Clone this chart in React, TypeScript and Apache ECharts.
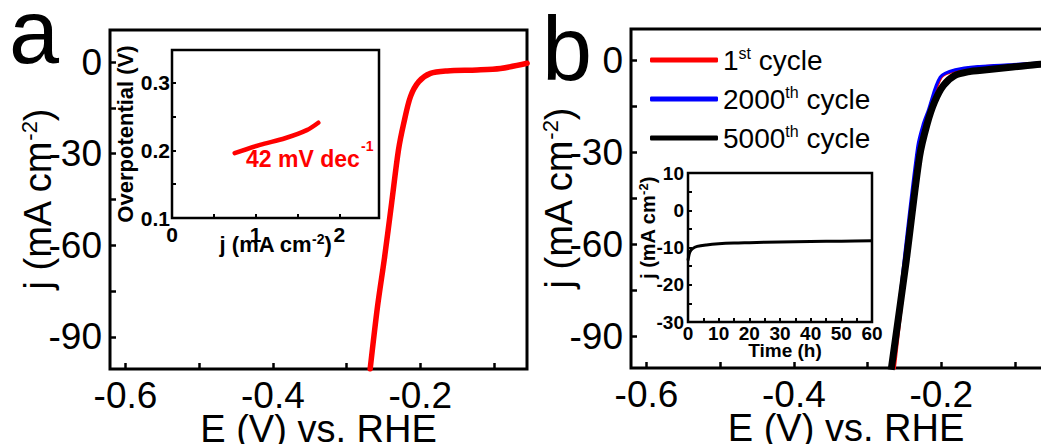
import React, { useEffect, useRef } from 'react';
import * as echarts from 'echarts';

const FONT = '"Liberation Sans", Arial, Helvetica, sans-serif';

// ---- Panel a: LSV curve ----
const lsvA_E = [-0.268, -0.258, -0.2485, -0.2388, -0.2296, -0.2224, -0.2133, -0.202, -0.1862, -0.1635, -0.1228, -0.0912, -0.055];
const lsvA_j = [-100.5, -80, -64, -46, -28.8, -20, -11.3, -6.4, -3.7, -2.9, -2.6, -2.1, -0.4];

// ---- Panel a inset: Tafel ----
const tafel_j = [0.749, 1.051, 1.35, 1.61, 1.748];
const tafel_eta = [0.196, 0.2083, 0.218, 0.23, 0.241];

// ---- Panel b: cycling LSV ----
const cycleNames = ['1st cycle', '2000th cycle', '5000th cycle'];
const cycleColors = ['#ff0000', '#0000ff', '#000000'];
const c1_E = [-0.2638, -0.2465, -0.2296, -0.2225, -0.216, -0.2001, -0.1798, -0.148, -0.103, -0.0654, -0.035];
const c1_j = [-100.8, -64, -28, -21, -16.5, -5.5, -3.3, -2.2, -1.6, -0.9, -0.5];
const c2000_E = [-0.2665, -0.25, -0.232, -0.2248, -0.218, -0.2015, -0.181, -0.148, -0.103, -0.0654, -0.035];
const c2000_j = [-100.8, -64, -28, -21, -16.5, -5.5, -3.1, -2.0, -1.4, -0.8, -0.4];
const c5000_E = [-0.268, -0.2476, -0.2296, -0.2195, -0.209, -0.197, -0.182, -0.16, -0.1482, -0.103, -0.0654, -0.035];
const c5000_j = [-100.9, -65.4, -31.5, -21, -13.5, -8.2, -5.0, -3.6, -3.3, -2.2, -1.3, -0.9];

// ---- Panel b inset: chronoamperometry ----
const time_h = [0, 0.2, 0.6, 1.5, 3, 6, 10, 15, 20, 30, 40, 50, 60];
const time_j = [-13.5, -12.5, -11.2, -10.3, -9.7, -9.3, -9.0, -8.8, -8.7, -8.5, -8.4, -8.3, -8.2];

// ---- Tick labels ----
const mainXLabels = [-0.6, -0.4, -0.2];
const mainXTicks = [-0.6, -0.5, -0.4, -0.3, -0.2, -0.1];
const mainYLabels = [0, -30, -60, -90];
const mainYTicks = [0, -15, -30, -45, -60, -75, -90];
const insetAXLabels = [0, 1, 2];
const insetAXTicks = [0.5, 1, 1.5, 2];
const insetAYLabels = [0.1, 0.2, 0.3];
const insetAYTicks = [0.15, 0.2, 0.25, 0.3];
const insetBXLabels = [0, 10, 20, 30, 40, 50, 60];
const insetBXTicks = [5, 10, 15, 20, 25, 30, 35, 40, 45, 50, 55];
const insetBYLabels = [10, 0, -10, -20, -30];
const insetBYTicks = [5, 0, -5, -10, -15, -20, -25];

const zip = (a: number[], b: number[]) => a.map((v, i) => [v, b[i]]);

const mainRich = {
  n: { fontSize: 38, fontFamily: FONT, color: '#000', lineHeight: 40 },
  s: { fontSize: 22, fontFamily: FONT, color: '#000', lineHeight: 16, verticalAlign: 'top' },
};
const insetRich = {
  n: { fontSize: 22, fontFamily: FONT, fontWeight: 'bold', color: '#000', lineHeight: 24 },
  s: { fontSize: 14, fontFamily: FONT, fontWeight: 'bold', color: '#000', lineHeight: 10, verticalAlign: 'top' },
};
const insetRichB = {
  n: { fontSize: 20, fontFamily: FONT, fontWeight: 'bold', color: '#000', lineHeight: 22 },
  s: { fontSize: 13, fontFamily: FONT, fontWeight: 'bold', color: '#000', lineHeight: 10, verticalAlign: 'top' },
};

function mainX(gridIndex: number, min: number, max: number) {
  return {
    gridIndex, type: 'value', min, max,
    axisLine: { show: false, onZero: false },
    splitLine: { show: false },
    axisTick: { show: true, inside: true, length: 6, customValues: mainXTicks, lineStyle: { color: '#000', width: 2.5 } },
    axisLabel: { customValues: mainXLabels, formatter: (v: number) => v.toFixed(1), fontSize: 37, fontFamily: FONT, color: '#000', margin: 8 },
    name: 'E (V) vs. RHE', nameLocation: 'middle', nameGap: 41, nameMoveOverlap: false,
    nameTextStyle: { fontSize: 38, fontFamily: FONT, color: '#000' },
  };
}
function mainY(gridIndex: number, min: number, max: number) {
  return {
    gridIndex, type: 'value', min, max,
    axisLine: { show: false, onZero: false },
    splitLine: { show: false },
    axisTick: { show: true, inside: true, length: 6, customValues: mainYTicks, lineStyle: { color: '#000', width: 2.5 } },
    axisLabel: { customValues: mainYLabels, formatter: (v: number) => String(v), fontSize: 37, fontFamily: FONT, color: '#000', margin: 8 },
    name: '{n|j (mA cm}{s|-2}{n|)}', nameLocation: 'middle', nameGap: 52, nameMoveOverlap: false,
    nameTextStyle: { rich: mainRich },
  };
}

const gridBase = { show: true, borderColor: '#000', outerBoundsMode: 'none', containLabel: false };

export default function App() {
  const ref = useRef<HTMLDivElement>(null);
  useEffect(() => {
    const chart = echarts.init(ref.current!, null, { renderer: 'svg' });
    const option: any = {
      animation: false,
      backgroundColor: '#fff',
      grid: [
        { ...gridBase, left: 110, top: 30, width: 417, height: 339, borderWidth: 3, backgroundColor: 'transparent' },
        { ...gridBase, left: 172, top: 50, width: 207, height: 168, borderWidth: 2.5, backgroundColor: '#fff' },
        { ...gridBase, left: 631, top: 29, width: 430, height: 339, borderWidth: 3, backgroundColor: 'transparent' },
        { ...gridBase, left: 688, top: 173, width: 184, height: 149, borderWidth: 2.5, backgroundColor: '#fff' },
      ],
      xAxis: [
        mainX(0, -0.621, -0.0552),
        {
          gridIndex: 1, type: 'value', min: 0, max: 2.473,
          axisLine: { show: false, onZero: false }, splitLine: { show: false },
          axisTick: { show: true, inside: true, length: 4, customValues: insetAXTicks, lineStyle: { color: '#000', width: 2 } },
          axisLabel: { customValues: insetAXLabels, formatter: (v: number) => String(v), fontSize: 21, fontWeight: 'bold', fontFamily: FONT, color: '#000', margin: 6 },
          name: '{n|j (mA cm}{s|-2}{n|)}', nameLocation: 'middle', nameGap: 14, nameMoveOverlap: false,
          nameTextStyle: { rich: insetRich },
        },
        mainX(2, -0.621, -0.0376),
        {
          gridIndex: 3, type: 'value', min: 0, max: 60,
          axisLine: { show: false, onZero: false }, splitLine: { show: false },
          axisTick: { show: true, inside: true, length: 4, customValues: insetBXTicks, lineStyle: { color: '#000', width: 2 } },
          axisLabel: { customValues: insetBXLabels, formatter: (v: number) => String(v), fontSize: 19, fontWeight: 'bold', fontFamily: FONT, color: '#000', margin: 2 },
        },
      ],
      yAxis: [
        mainY(0, -100.5, 10.5),
        {
          gridIndex: 1, type: 'value', min: 0.1, max: 0.3486,
          axisLine: { show: false, onZero: false }, splitLine: { show: false },
          axisTick: { show: true, inside: true, length: 4, customValues: insetAYTicks, lineStyle: { color: '#000', width: 2 } },
          axisLabel: { customValues: insetAYLabels, formatter: (v: number) => v.toFixed(1), fontSize: 21, fontWeight: 'bold', fontFamily: FONT, color: '#000', margin: 2 },
          name: 'Overpotential (V)', nameLocation: 'middle', nameGap: 36, nameMoveOverlap: false,
          nameTextStyle: { fontSize: 22, fontWeight: 'bold', fontFamily: FONT, color: '#000' },
        },
        mainY(2, -100.3, 10.2),
        {
          gridIndex: 3, type: 'value', min: -30, max: 10,
          axisLine: { show: false, onZero: false }, splitLine: { show: false },
          axisTick: { show: true, inside: true, length: 4, customValues: insetBYTicks, lineStyle: { color: '#000', width: 2 } },
          axisLabel: { customValues: insetBYLabels, formatter: (v: number) => String(v), fontSize: 19, fontWeight: 'bold', fontFamily: FONT, color: '#000', margin: 4 },
        },
      ],
      legend: {
        show: true, orient: 'vertical', left: 645, top: 40,
        itemWidth: 68, itemHeight: 5, itemGap: 10, icon: 'roundRect',
        itemStyle: { borderWidth: 0 },
        data: cycleNames,
        formatter: (name: string) => {
          const m = name.match(/^(\d+)(st|th) (cycle)$/);
          return m ? `{n|${m[1]}}{s|${m[2]}}{n| ${m[3]}}` : name;
        },
        textStyle: {
          fontSize: 28, fontFamily: FONT, color: '#000',
          rich: {
            n: { fontSize: 28, fontFamily: FONT, color: '#000', lineHeight: 30 },
            s: { fontSize: 16, fontFamily: FONT, color: '#000', lineHeight: 13, verticalAlign: 'top' },
          },
        },
      },
      series: [
        {
          type: 'line', xAxisIndex: 0, yAxisIndex: 0, data: zip(lsvA_E, lsvA_j),
          showSymbol: false, smooth: 0.3, color: '#ff0000',
          lineStyle: { color: '#ff0000', width: 5.5, cap: 'round', join: 'round' },
        },
        {
          type: 'line', xAxisIndex: 1, yAxisIndex: 1, data: zip(tafel_j, tafel_eta),
          showSymbol: false, smooth: 0.3, color: '#ff0000',
          lineStyle: { color: '#ff0000', width: 4.5, cap: 'round' },
        },
        {
          name: cycleNames[0], type: 'line', xAxisIndex: 2, yAxisIndex: 2, data: zip(c1_E, c1_j),
          showSymbol: false, smooth: 0.3, color: cycleColors[0],
          lineStyle: { color: cycleColors[0], width: 3 },
        },
        {
          name: cycleNames[1], type: 'line', xAxisIndex: 2, yAxisIndex: 2, data: zip(c2000_E, c2000_j),
          showSymbol: false, smooth: 0.3, color: cycleColors[1],
          lineStyle: { color: cycleColors[1], width: 3 },
        },
        {
          name: cycleNames[2], type: 'line', xAxisIndex: 2, yAxisIndex: 2, data: zip(c5000_E, c5000_j),
          showSymbol: false, smooth: 0.3, color: cycleColors[2],
          lineStyle: { color: cycleColors[2], width: 7 },
        },
        {
          type: 'line', xAxisIndex: 3, yAxisIndex: 3, data: zip(time_h, time_j),
          showSymbol: false, smooth: 0.3, color: '#000',
          lineStyle: { color: '#000', width: 3 },
        },
      ],
      graphic: [
        { type: 'text', x: 9, y: 32, style: { text: 'a', fontSize: 90, lineHeight: 60, fontFamily: FONT, fill: '#000', align: 'left', verticalAlign: 'middle' } },
        { type: 'text', x: 542, y: 49, style: { text: 'b', fontSize: 90, lineHeight: 70, fontFamily: FONT, fill: '#000', align: 'left', verticalAlign: 'middle' } },
        { type: 'text', x: 246, y: 158.7, z: 10, style: { text: '42 mV dec', fontSize: 23, fontWeight: 'bold', fontFamily: FONT, fill: '#ff0000', align: 'left', verticalAlign: 'middle' } },
        { type: 'text', x: 361, y: 146, z: 10, style: { text: '-1', fontSize: 14, fontWeight: 'bold', fontFamily: FONT, fill: '#ff0000', align: 'left', verticalAlign: 'middle' } },
        { type: 'text', x: 648, y: 228, rotation: Math.PI / 2, z: 10, style: { text: '{n|j (mA cm}{s|-2}{n|)}', rich: insetRichB, align: 'center', verticalAlign: 'middle' } },
        { type: 'text', x: 785, y: 350, z: 10, style: { text: 'Time (h)', fontSize: 19, fontWeight: 'bold', fontFamily: FONT, fill: '#000', align: 'center', verticalAlign: 'middle' } },
      ],
    };
    chart.setOption(option);
    return () => chart.dispose();
  }, []);
  return <div ref={ref} style={{ position: 'fixed', left: 0, top: 0, width: 1041, height: 444, background: '#fff' }} />;
}
